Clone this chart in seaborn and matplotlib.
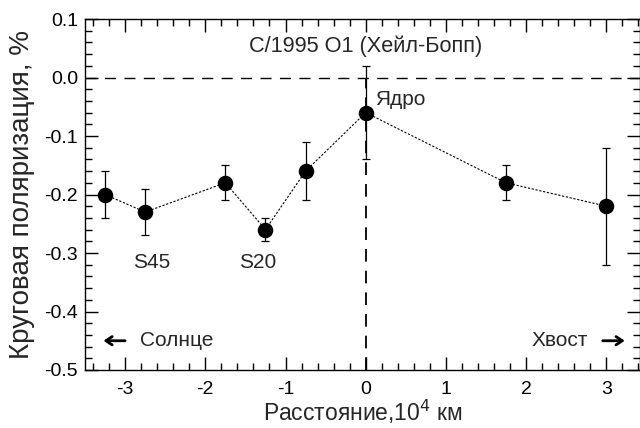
import numpy as np
import pandas as pd
import matplotlib
matplotlib.use("Agg")
import matplotlib.pyplot as plt
from matplotlib.ticker import MultipleLocator, FormatStrFormatter
import seaborn as sns

# Data
distance = [-3.25, -2.75, -1.75, -1.25, -0.75, 0.0, 1.75, 3.0]
polarization = [-0.20, -0.23, -0.18, -0.26, -0.16, -0.06, -0.18, -0.22]
errors = [0.04, 0.04, 0.03, 0.02, 0.05, 0.08, 0.03, 0.10]
x_ticks = [-3, -2, -1, 0, 1, 2, 3]
y_ticks = [0.1, 0.0, -0.1, -0.2, -0.3, -0.4, -0.5]

df = pd.DataFrame({"x": distance, "y": polarization, "err": errors})

sns.set_style("ticks")
plt.rcParams["font.family"] = ["Liberation Sans", "DejaVu Sans"]
plt.rcParams["axes.unicode_minus"] = False

fig = plt.figure(figsize=(6.4, 4.28), dpi=100)
W, H = 640, 428
left, right, top, bottom = 85, 640, 19, 370
ax = fig.add_axes([left / W, 1 - bottom / H, (right - left) / W, (bottom - top) / H])

# reference lines
ax.axhline(0, color="black", lw=1.0, ls=(0, (8, 6)), zorder=1)
ax.plot([0, 0], [-0.5, 0.0], color="black", lw=1.3, ls=(0, (7, 5)), zorder=1)

# connecting dotted line
sns.lineplot(data=df, x="x", y="y", ax=ax, color="black", lw=0.8,
             linestyle=(0, (2, 1.5)), sort=False, zorder=2)
# error bars
ax.errorbar(df["x"], df["y"], yerr=df["err"], fmt="none", ecolor="black",
            elinewidth=0.9, capsize=3.0, capthick=0.9, zorder=3)
# markers
sns.scatterplot(data=df, x="x", y="y", ax=ax, color="black", s=125,
                edgecolor="black", linewidth=0, zorder=4)

ax.set_xlim(-3.5, 3.42)
ax.set_ylim(-0.5, 0.1)
ax.set_xticks(x_ticks)
ax.set_yticks(y_ticks)
ax.xaxis.set_minor_locator(MultipleLocator(0.2))
ax.yaxis.set_minor_locator(MultipleLocator(0.02))
ax.yaxis.set_major_formatter(FormatStrFormatter("%.1f"))
ax.tick_params(which="both", direction="in", top=True, right=True,
               colors="black", width=1.0)
ax.tick_params(which="major", length=9.5, labelsize=14)
ax.tick_params(axis="x", which="major", pad=8)
ax.tick_params(axis="y", which="major", pad=5)
ax.tick_params(which="minor", length=5)
for s in ax.spines.values():
    s.set_color("black")
    s.set_linewidth(1.0)

ax.set_xlabel("Расстояние,10$^4$ км", fontsize=16.5, labelpad=0)
ax.set_ylabel("Круговая поляризация, %", fontsize=20, labelpad=7)

fs = 15
ax.text(0, 0.054, "C/1995 O1 (Хейл-Бопп)", ha="center", va="center", fontsize=15.7)
ax.text(0.116, -0.038, "Ядро", ha="left", va="center", fontsize=fs)
ax.text(-2.67, -0.317, "S45", ha="center", va="center", fontsize=fs)
ax.text(-1.345, -0.317, "S20", ha="center", va="center", fontsize=fs)
ax.text(-2.81, -0.45, "Солнце", ha="left", va="center", fontsize=fs)
ax.text(2.77, -0.45, "Хвост", ha="right", va="center", fontsize=fs)
arrow = dict(arrowstyle="->,head_length=0.45,head_width=0.3", lw=2.0,
             color="black", shrinkA=0, shrinkB=0)
ax.annotate("", xy=(-3.27, -0.45), xytext=(-3.0, -0.45), arrowprops=arrow)
ax.annotate("", xy=(3.23, -0.45), xytext=(2.955, -0.45), arrowprops=arrow)

fig.savefig("out.png", dpi=100)
